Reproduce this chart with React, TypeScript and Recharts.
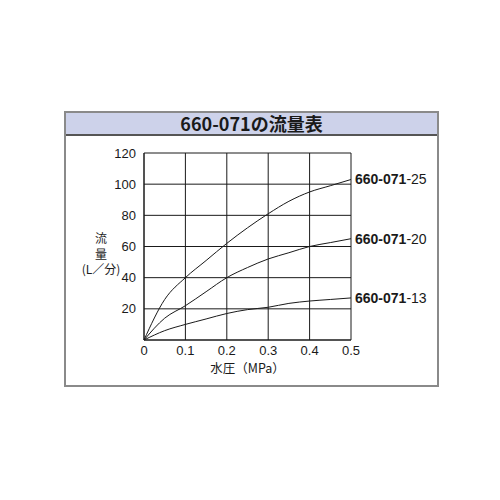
import React from "react";
import { CartesianGrid, LabelList, Line, LineChart, XAxis, YAxis } from "recharts";

const pressure = [0, 0.05, 0.1, 0.15, 0.2, 0.25, 0.3, 0.35, 0.4, 0.45, 0.5];
const flow25 = [0, 26, 40, 51, 62, 72, 81, 89, 95, 99, 103];
const flow20 = [0, 14, 22, 31, 40, 46.5, 52, 56, 60, 62.5, 65];
const flow13 = [0, 6, 10, 13.5, 17, 19.5, 21, 23.5, 25, 26, 27];
const xTicks = [0, 0.1, 0.2, 0.3, 0.4, 0.5];
const yTicks = [0, 20, 40, 60, 80, 100, 120];
const seriesNames = ["25", "20", "13"];

const data = pressure.map((p, i) => ({ p, s25: flow25[i], s20: flow20[i], s13: flow13[i] }));

const font = "'Liberation Sans', Arial, 'Noto Sans CJK JP', sans-serif";
const cjk = "'Noto Sans CJK JP', sans-serif";

const endLabel = (suffix: string) => (props: any) => {
  const { x, y, index } = props;
  if (index !== pressure.length - 1) return null;
  return (
    <text x={x + 4} y={y} dy={5} fontSize={14} fill="#1a1a1a" fontFamily={font}>
      <tspan fontWeight="bold">660-071</tspan>
      <tspan>-{suffix}</tspan>
    </text>
  );
};

const yLabelLines = ["流", "量", "(L／分)"];

const App = () => {
  return (
    <div style={{ position: "absolute", left: 0, top: 0, width: 500, height: 500, background: "#fff" }}>
      <div
        style={{
          position: "absolute",
          left: 64,
          top: 111,
          width: 371,
          height: 272,
          border: "2px solid #8a8a8a",
        }}
      />
      <div
        style={{
          position: "absolute",
          left: 66,
          top: 113,
          width: 371,
          height: 21,
          background: "#cdd2ea",
          borderBottom: "2px solid #555",
          textAlign: "center",
          fontFamily: cjk,
          fontWeight: "bold",
          fontSize: 18,
          lineHeight: "21px",
          color: "#1a1a1a",
        }}
      >
        660-071の流量表
      </div>
      <svg
        width={60}
        height={60}
        style={{ position: "absolute", left: 71, top: 225 }}
      >
        {yLabelLines.map((t, i) => (
          <text
            key={t}
            x={30}
            y={18 + i * 15.5}
            textAnchor="middle"
            fontFamily={cjk}
            fontSize={12}
            fill="#1a1a1a"
          >
            {t}
          </text>
        ))}
      </svg>
      <div style={{ position: "absolute", left: 0, top: 0 }}>
        <LineChart
          width={500}
          height={500}
          data={data}
          margin={{ top: 153, right: 149, left: 104, bottom: 130 }}
        >
          <CartesianGrid stroke="#1a1a1a" strokeWidth={1} />
          <XAxis
            dataKey="p"
            type="number"
            domain={[0, 0.5]}
            ticks={xTicks}
            height={30}
            tickLine={false}
            axisLine={{ stroke: "#1a1a1a" }}
            tick={{ fill: "#1a1a1a", fontSize: 13, fontFamily: font, dy: -2 }}
            tickFormatter={(v: number) => (v === 0 ? "0" : v.toFixed(1))}
            label={{
              value: "水圧（MPa）",
              position: "insideBottom",
              offset: -3,
              fill: "#1a1a1a",
              fontSize: 12.5,
              fontFamily: cjk,
            }}
          />
          <YAxis
            type="number"
            domain={[0, 120]}
            ticks={yTicks}
            width={40}
            tickLine={false}
            axisLine={{ stroke: "#1a1a1a" }}
            tick={{ fill: "#1a1a1a", fontSize: 13, fontFamily: font }}
            tickFormatter={(v: number) => (v === 0 ? "" : String(v))}
          />
          {["s25", "s20", "s13"].map((k, i) => (
            <Line
              key={k}
              dataKey={k}
              type="monotone"
              stroke="#1a1a1a"
              strokeWidth={1}
              dot={false}
              isAnimationActive={false}
            >
              <LabelList dataKey={k} content={endLabel(seriesNames[i])} />
            </Line>
          ))}
        </LineChart>
      </div>
    </div>
  );
};

export default App;
